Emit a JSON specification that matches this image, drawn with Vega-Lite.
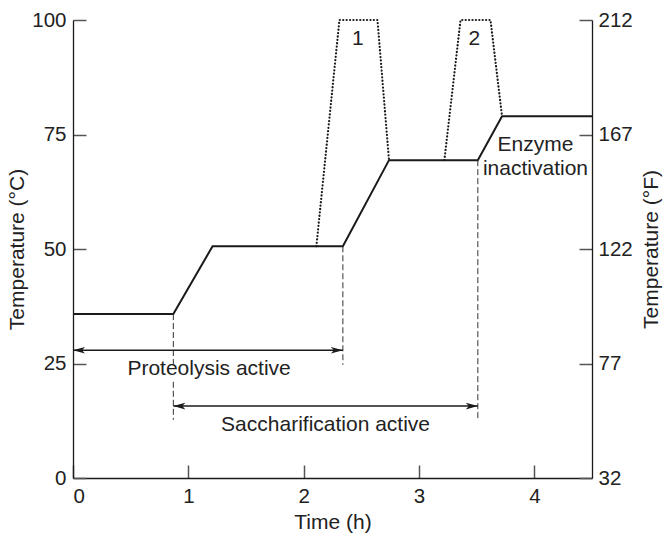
{
  "$schema": "https://vega.github.io/schema/vega-lite/v6.json",
  "autosize": {"type": "none"},
  "padding": {"left": 73, "top": 20, "right": 73, "bottom": 58},
  "width": 519,
  "height": 458,
  "background": "white",
  "config": {
    "view": {"stroke": null},
    "font": "Liberation Sans",
    "axis": {
      "grid": false,
      "domainColor": "#1a1a1a",
      "domainWidth": 1.3,
      "tickColor": "#555555",
      "tickWidth": 1.5,
      "tickSize": -13,
      "labelFont": "Liberation Sans",
      "labelFontSize": 20.5,
      "labelColor": "#222222",
      "titleFont": "Liberation Sans",
      "titleFontSize": 21,
      "titleFontWeight": "normal",
      "titleColor": "#222222"
    }
  },
  "datasets": {
    "main": [
      {"t": 0, "temp": 35.8},
      {"t": 0.87, "temp": 35.8},
      {"t": 1.21, "temp": 50.6},
      {"t": 2.34, "temp": 50.6},
      {"t": 2.74, "temp": 69.4},
      {"t": 3.51, "temp": 69.4},
      {"t": 3.72, "temp": 79.0},
      {"t": 4.5, "temp": 79.0}
    ],
    "dotted": [
      {"peak": "1", "t": 2.11, "temp": 50.6},
      {"peak": "1", "t": 2.31, "temp": 100},
      {"peak": "1", "t": 2.64, "temp": 100},
      {"peak": "1", "t": 2.74, "temp": 69.4},
      {"peak": "2", "t": 3.22, "temp": 69.4},
      {"peak": "2", "t": 3.36, "temp": 100},
      {"peak": "2", "t": 3.62, "temp": 100},
      {"peak": "2", "t": 3.72, "temp": 79.0}
    ],
    "guides": [
      {"t": 0.87, "y1": 35.8, "y2": 24.8},
      {"t": 0.87, "y1": 21.0, "y2": 12.7},
      {"t": 2.34, "y1": 50.6, "y2": 24.7},
      {"t": 3.51, "y1": 69.4, "y2": 12.7}
    ],
    "spans": [
      {"t1": 0, "t2": 2.34, "y": 27.9},
      {"t1": 0.87, "t2": 3.51, "y": 15.7}
    ],
    "heads": [
      {"t": 0, "y": 27.9, "dir": "L"},
      {"t": 2.34, "y": 27.9, "dir": "R"},
      {"t": 0.87, "y": 15.7, "dir": "L"},
      {"t": 3.51, "y": 15.7, "dir": "R"}
    ],
    "labels": [
      {"t": 1.18, "y": 23.9, "label": "Proteolysis active"},
      {"t": 2.19, "y": 11.6, "label": "Saccharification active"},
      {"t": 4.01, "y": 72.6, "label": "Enzyme"},
      {"t": 4.01, "y": 67.5, "label": "inactivation"},
      {"t": 2.47, "y": 95.8, "label": "1"},
      {"t": 3.48, "y": 95.8, "label": "2"}
    ],
    "fahr": [
      {"v": 0},
      {"v": 100}
    ]
  },
  "layer": [
    {
      "layer": [
        {
          "data": {"name": "main"},
          "mark": {"type": "line", "color": "#1a1a1a", "strokeWidth": 2},
          "encoding": {
            "x": {"field": "t", "type": "quantitative", "scale": {"domain": [0, 4.5], "nice": false},
              "axis": {"title": "Time (h)", "values": [0, 1, 2, 3, 4], "format": "d", "labelPadding": 21, "titlePadding": 5}},
            "y": {"field": "temp", "type": "quantitative", "scale": {"domain": [0, 100], "nice": false},
              "axis": {"title": "Temperature (°C)", "values": [0, 25, 50, 75, 100], "format": "d", "labelPadding": 20, "titlePadding": 4, "orient": "left"}}
          }
        },
        {
          "data": {"name": "dotted"},
          "mark": {"type": "line", "color": "#1a1a1a", "strokeWidth": 2.2, "strokeDash": [0.1, 3.3], "strokeCap": "round"},
          "encoding": {
            "x": {"field": "t", "type": "quantitative"},
            "y": {"field": "temp", "type": "quantitative", "scale": {"domain": [0, 100], "nice": false}},
            "detail": {"field": "peak"}
          }
        },
        {
          "data": {"name": "guides"},
          "mark": {"type": "rule", "color": "#333333", "strokeWidth": 1, "strokeDash": [6, 3]},
          "encoding": {
            "x": {"field": "t", "type": "quantitative"},
            "y": {"field": "y1", "type": "quantitative", "scale": {"domain": [0, 100], "nice": false}},
            "y2": {"field": "y2"}
          }
        },
        {
          "data": {"name": "spans"},
          "mark": {"type": "rule", "color": "#1a1a1a", "strokeWidth": 1.5},
          "encoding": {
            "x": {"field": "t1", "type": "quantitative"},
            "x2": {"field": "t2"},
            "y": {"field": "y", "type": "quantitative", "scale": {"domain": [0, 100], "nice": false}}
          }
        },
        {
          "data": {"name": "heads"},
          "mark": {"type": "point", "filled": true, "color": "#1a1a1a", "opacity": 1, "size": 144},
          "encoding": {
            "x": {"field": "t", "type": "quantitative"},
            "y": {"field": "y", "type": "quantitative", "scale": {"domain": [0, 100], "nice": false}},
            "shape": {"field": "dir", "type": "nominal", "legend": null,
              "scale": {"domain": ["L", "R"], "range": ["M0,0 L2,-0.55 L1.5,0 L2,0.55 Z", "M0,0 L-2,-0.55 L-1.5,0 L-2,0.55 Z"]}}
          }
        },
        {
          "data": {"name": "labels"},
          "mark": {"type": "text", "font": "Liberation Sans", "fontSize": 21, "color": "#222222", "align": "center", "baseline": "middle"},
          "encoding": {
            "x": {"field": "t", "type": "quantitative"},
            "y": {"field": "y", "type": "quantitative", "scale": {"domain": [0, 100], "nice": false}},
            "text": {"field": "label"}
          }
        }
      ]
    },
    {
      "data": {"name": "fahr"},
      "mark": {"type": "tick", "opacity": 0},
      "encoding": {
        "y": {"field": "v", "type": "quantitative", "scale": {"domain": [0, 100], "nice": false},
          "axis": {"orient": "right", "title": "Temperature (°F)", "values": [0, 25, 50, 75, 100],
            "labelExpr": "format(datum.value * 1.8 + 32, 'd')", "labelPadding": 19, "titlePadding": 29, "titleAngle": 270}}
      }
    }
  ],
  "resolve": {"scale": {"y": "independent"}, "axis": {"y": "independent"}}
}
